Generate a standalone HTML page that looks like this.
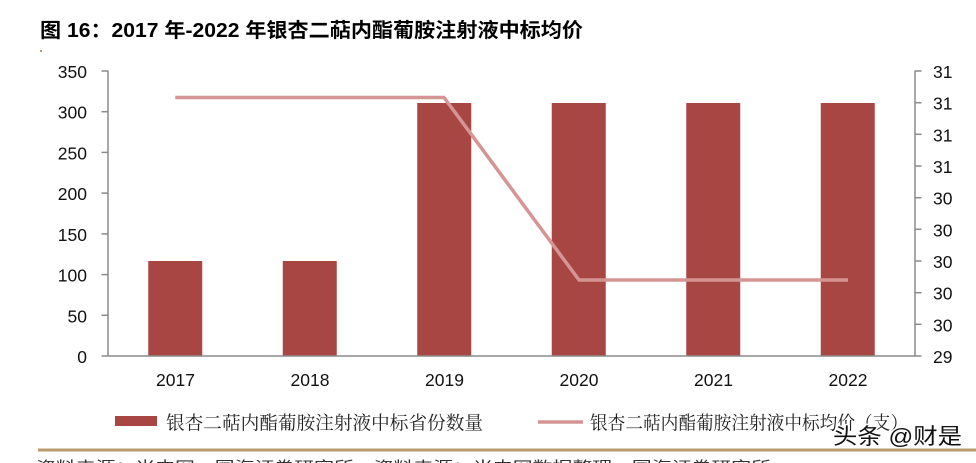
<!DOCTYPE html>
<html>
<head>
<meta charset="utf-8">
<style>
  html, body { margin: 0; padding: 0; background: #ffffff; }
  body { width: 976px; height: 463px; overflow: hidden; }
  svg { display: block; }
  .num { font-family: "Liberation Sans", Arial, sans-serif; font-size: 17.5px; fill: #111; }
  .cjk { font-family: "Liberation Serif", "Noto Serif CJK SC", serif; font-size: 18.5px; fill: #222; }
</style>
</head>
<body>
<svg width="976" height="463" viewBox="0 0 976 463" xmlns="http://www.w3.org/2000/svg">
  <!-- Title -->
  <text x="40" y="37" font-family="'Liberation Sans', 'Noto Sans CJK SC', sans-serif" font-weight="bold" font-size="20" fill="#000" textLength="543" lengthAdjust="spacingAndGlyphs">图 16：2017 年-2022 年银杏二萜内酯葡胺注射液中标均价</text>
  <rect x="40" y="50" width="2" height="2" fill="#c8966a"/>

  <!-- Bars -->
  <g fill="#a84644">
    <rect x="148.25" y="261" width="54" height="95"/>
    <rect x="282.75" y="261" width="54" height="95"/>
    <rect x="417.25" y="103" width="54" height="253"/>
    <rect x="551.75" y="103" width="54" height="253"/>
    <rect x="686.25" y="103" width="54" height="253"/>
    <rect x="820.75" y="103" width="54" height="253"/>
  </g>

  <!-- Line series -->
  <polyline points="175.25,97.5 444,97.5 579,280 848,280" fill="none" stroke="#d49594" stroke-width="3.5" stroke-linejoin="round"/>

  <!-- Left axis -->
  <g stroke="#8a8a8a" stroke-width="1.5" fill="none">
    <line x1="108" y1="70.5" x2="108" y2="356"/>
    <line x1="101.5" y1="71" x2="108" y2="71"/>
    <line x1="101.5" y1="111.7" x2="108" y2="111.7"/>
    <line x1="101.5" y1="152.4" x2="108" y2="152.4"/>
    <line x1="101.5" y1="193.1" x2="108" y2="193.1"/>
    <line x1="101.5" y1="233.9" x2="108" y2="233.9"/>
    <line x1="101.5" y1="274.6" x2="108" y2="274.6"/>
    <line x1="101.5" y1="315.3" x2="108" y2="315.3"/>
    <line x1="101.5" y1="356" x2="108" y2="356"/>
    <!-- X axis -->
    <line x1="108" y1="356" x2="915" y2="356"/>
    <!-- Right axis -->
    <line x1="915" y1="70.5" x2="915" y2="356"/>
    <line x1="915" y1="71" x2="921.5" y2="71"/>
    <line x1="915" y1="102.7" x2="921.5" y2="102.7"/>
    <line x1="915" y1="134.3" x2="921.5" y2="134.3"/>
    <line x1="915" y1="166" x2="921.5" y2="166"/>
    <line x1="915" y1="197.7" x2="921.5" y2="197.7"/>
    <line x1="915" y1="229.3" x2="921.5" y2="229.3"/>
    <line x1="915" y1="261" x2="921.5" y2="261"/>
    <line x1="915" y1="292.7" x2="921.5" y2="292.7"/>
    <line x1="915" y1="324.3" x2="921.5" y2="324.3"/>
    <line x1="915" y1="356" x2="921.5" y2="356"/>
  </g>

  <!-- Left axis labels -->
  <g class="num" text-anchor="end">
    <text x="87" y="78">350</text>
    <text x="87" y="118.7">300</text>
    <text x="87" y="159.4">250</text>
    <text x="87" y="200.1">200</text>
    <text x="87" y="240.9">150</text>
    <text x="87" y="281.6">100</text>
    <text x="87" y="322.3">50</text>
    <text x="87" y="363">0</text>
  </g>

  <!-- Right axis labels -->
  <g class="num" text-anchor="start">
    <text x="933" y="78">31</text>
    <text x="933" y="109.7">31</text>
    <text x="933" y="141.3">31</text>
    <text x="933" y="173">31</text>
    <text x="933" y="204.7">30</text>
    <text x="933" y="236.3">30</text>
    <text x="933" y="268">30</text>
    <text x="933" y="299.7">30</text>
    <text x="933" y="331.3">30</text>
    <text x="933" y="363">29</text>
  </g>

  <!-- X labels -->
  <g class="num" text-anchor="middle">
    <text x="175.5" y="386">2017</text>
    <text x="310" y="386">2018</text>
    <text x="444.5" y="386">2019</text>
    <text x="579" y="386">2020</text>
    <text x="713.5" y="386">2021</text>
    <text x="848" y="386">2022</text>
  </g>

  <!-- Legend -->
  <rect x="115" y="416" width="42" height="10" fill="#a84644"/>
  <text class="cjk" x="166" y="429.5" textLength="317" lengthAdjust="spacingAndGlyphs">银杏二萜内酯葡胺注射液中标省份数量</text>
  <line x1="538" y1="422" x2="583" y2="422" stroke="#d49594" stroke-width="3.5"/>
  <text class="cjk" x="590" y="429.5" textLength="318" lengthAdjust="spacingAndGlyphs">银杏二萜内酯葡胺注射液中标均价（支）</text>

  <!-- Watermark -->
  <text x="833" y="444" font-family="'Liberation Sans', 'Noto Sans CJK SC', sans-serif" font-size="22" fill="#111" stroke="#ffffff" stroke-width="3" paint-order="stroke" textLength="129" lengthAdjust="spacingAndGlyphs">头条 @财是</text>

  <!-- Gold separator -->
  <line x1="38" y1="450" x2="976" y2="450" stroke="#b89b6c" stroke-width="3"/>

  <!-- Cut-off source text -->
  <text x="36" y="472" font-family="'Liberation Sans', 'Noto Sans CJK SC', sans-serif" font-size="15" fill="#333" textLength="735" lengthAdjust="spacingAndGlyphs">资料来源：米内网，国海证券研究所，资料来源：米内网数据整理，国海证券研究所</text>
</svg>
</body>
</html>
